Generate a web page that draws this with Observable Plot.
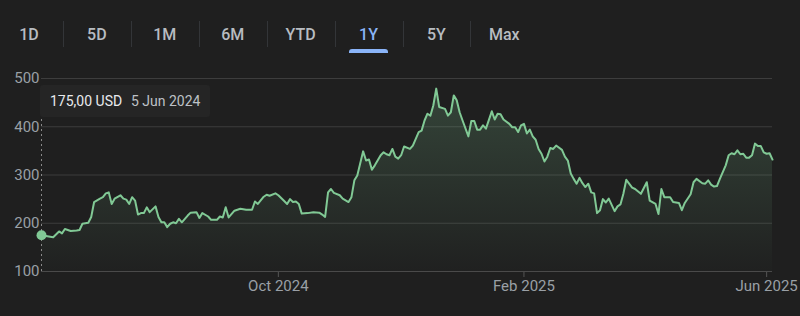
<!DOCTYPE html>
<html><head><meta charset="utf-8">
<script src="https://cdn.jsdelivr.net/npm/d3@7"></script>
<script src="https://cdn.jsdelivr.net/npm/@observablehq/plot@0.6"></script>
<style>
html,body{margin:0;padding:0;background:#1f1f1f;}
#wrap{position:relative;width:800px;height:316px;overflow:hidden;font-family:Roboto,"Noto Sans",sans-serif;background:#1f1f1f;}
#tabs{position:relative;height:60px;}
.tab{position:absolute;top:24px;transform:translateX(-50%);font-size:16px;font-weight:500;color:#b8bcc1;line-height:22px;white-space:nowrap;}
.tab.on{color:#8ab4f8;}
.sep{position:absolute;top:21px;width:1px;height:26px;background:#333538;}
.bar{position:absolute;top:49px;height:4px;background:#8ab4f8;border-radius:3px 3px 0 0;}
#chart{position:absolute;left:0;top:60px;}
#tip{position:absolute;left:40px;top:85px;width:170px;height:32px;background:#252525;border-radius:3px;font-size:14px;line-height:32px;white-space:nowrap;}
#tip .v{position:absolute;left:10px;color:#e8eaed;font-weight:400;}
#tip .d{position:absolute;left:91px;color:#bdc1c6;}
</style>
</head><body>
<div id="wrap">
  <div id="tabs"></div>
  <div id="chart"></div>
  <div id="tip"><span class="v"></span><span class="d"></span></div>
</div>
<script>
const tabs = ["1D","5D","1M","6M","YTD","1Y","5Y","Max"];
const activeTab = "1Y";

// trading-day index since 5 Jun 2024
const days = [
  0,2,4,6,7,8,10,12,13,14,
  16,17,18,20,21,22,23,24,25,27,
  28,29,30,31,32,33,34,35,36,37,
  39,40,41,42,43,44,45,46,47,48,
  50,51,53,54,55,57,58,60,61,62,
  63,64,66,68,70,72,73,74,76,77,
  78,80,81,83,84,85,86,87,88,89,
  91,93,95,96,97,98,99,100,102,103,
  105,106,107,108,110,111,112,113,114,116,
  117,118,119,120,121,122,123,124,126,127,
  128,129,130,131,132,133,134,135,136,138,
  139,140,141,142,143,144,146,147,148,149,
  150,151,152,154,155,156,157,158,160,161,
  162,163,164,165,166,167,168,169,170,171,
  172,173,174,175,176,178,179,180,181,182,
  183,184,185,186,187,188,189,190,191,192,
  193,194,196,197,198,199,200,202,203,205,
  207,208,210,211,212,213,215,216,218,219,
  220,222,223,224,226,227,228,229,230,231,
  232,234,235,236,237,238,239,240,241,242,
  243,244,245,246,247,248,249,250
];
const prices = [
  175,173,171,183,179,188,184,185,186,199,
  201,213,244,251,254,262,264,240,251,258,
  251,249,240,254,247,218,221,221,233,223,
  235,213,202,202,192,199,202,200,209,202,
  216,222,223,211,221,214,207,207,214,212,
  233,212,226,230,228,228,245,240,255,259,
  257,262,258,246,240,250,244,245,240,220,
  221,223,222,218,213,264,271,263,258,251,
  244,254,289,299,349,330,332,311,320,341,
  347,343,341,354,338,334,341,359,354,361,
  375,389,392,413,427,423,444,479,441,437,
  423,430,465,455,430,413,380,412,412,394,
  394,403,396,432,415,427,426,415,406,399,
  399,389,403,406,386,394,380,373,354,344,
  328,338,356,354,361,352,338,330,303,292,
  282,294,283,275,282,264,262,221,227,250,
  243,251,225,235,239,261,290,274,271,261,
  285,247,240,219,271,254,254,244,242,227,
  242,260,285,292,283,282,289,280,276,277,
  292,320,341,345,343,351,343,344,336,336,
  341,365,360,360,347,344,345,332
];
const tickDays = [81, 165, 248];
const tickLabels = ["Oct 2024", "Feb 2025", "Jun 2025"];
const yTicks = [100, 200, 300, 400, 500];
const hoverDate = "5 Jun 2024";
const currency = "USD";

// tabs
const tabsEl = document.getElementById("tabs");
tabs.forEach((t, i) => {
  const el = document.createElement("div");
  el.className = "tab" + (t === activeTab ? " on" : "");
  el.textContent = t;
  el.style.left = (29 + i * 67.9) + "px";
  tabsEl.appendChild(el);
  if (t === activeTab) {
    const b = document.createElement("div");
    b.className = "bar";
    b.style.left = (29 + i * 67.9 - 19.5) + "px";
    b.style.width = "39px";
    tabsEl.appendChild(b);
  }
  if (i < tabs.length - 1) {
    const s = document.createElement("div");
    s.className = "sep";
    s.style.left = (63 + i * 67.9) + "px";
    tabsEl.appendChild(s);
  }
});

const data = days.map((d, i) => ({d, p: prices[i]}));
const green = "#81c995";

const chart = Plot.plot({
  width: 800, height: 256,
  marginLeft: 41, marginRight: 28, marginTop: 18, marginBottom: 45,
  style: {background: "transparent", color: "#9aa0a6", fontFamily: "Roboto, 'Noto Sans', sans-serif", fontSize: "15px", overflow: "visible"},
  x: {domain: [0, 250], ticks: tickDays, tickFormat: d => tickLabels[tickDays.indexOf(d)], tickSize: 6, tickPadding: 3, label: null},
  y: {domain: [100, 500], ticks: yTicks, tickSize: 0, tickPadding: 2, label: null},
  marks: [
    Plot.ruleY(yTicks.filter(v => v > 100), {stroke: "#3d3d3d", strokeWidth: 1}),
    Plot.areaY(data, {x: "d", y1: 100, y2: "p", fill: green, fillOpacity: 0.15, curve: "linear"}),
    Plot.ruleY([100], {stroke: "#4a4a4a", strokeWidth: 1}),
    Plot.ruleX([0], {y1: 100, y2: 420, stroke: "#8a8a8a", strokeWidth: 1, strokeDasharray: "2,3"}),
    Plot.lineY(data, {x: "d", y: "p", stroke: green, strokeWidth: 2, curve: "linear"}),
    Plot.dot([data[0]], {x: "d", y: "p", r: 5, fill: green, stroke: "none"})
  ]
});

const svg = d3.select(chart);
const defs = svg.insert("defs", ":first-child");
const grad = defs.append("linearGradient").attr("id", "fade").attr("x1", 0).attr("x2", 0).attr("y1", 0).attr("y2", 1);
grad.append("stop").attr("offset", "0%").attr("stop-color", green).attr("stop-opacity", 0.22);
grad.append("stop").attr("offset", "100%").attr("stop-color", green).attr("stop-opacity", 0.01);
svg.selectAll('g[aria-label="area"] path').attr("fill", "url(#fade)").attr("fill-opacity", 1);
svg.selectAll('g[aria-label="x-axis tick"] path, g[aria-label="x-axis"] g.tick line, g[aria-label="x-axis"] path').attr("stroke", "#555");
svg.selectAll('g[aria-label="x-axis tick"]').attr("stroke", "#555");
document.getElementById("chart").appendChild(chart);

document.querySelector("#tip .v").textContent = prices[0].toFixed(2).replace(".", ",") + " " + currency;
document.querySelector("#tip .d").textContent = hoverDate;
</script>
</body></html>
